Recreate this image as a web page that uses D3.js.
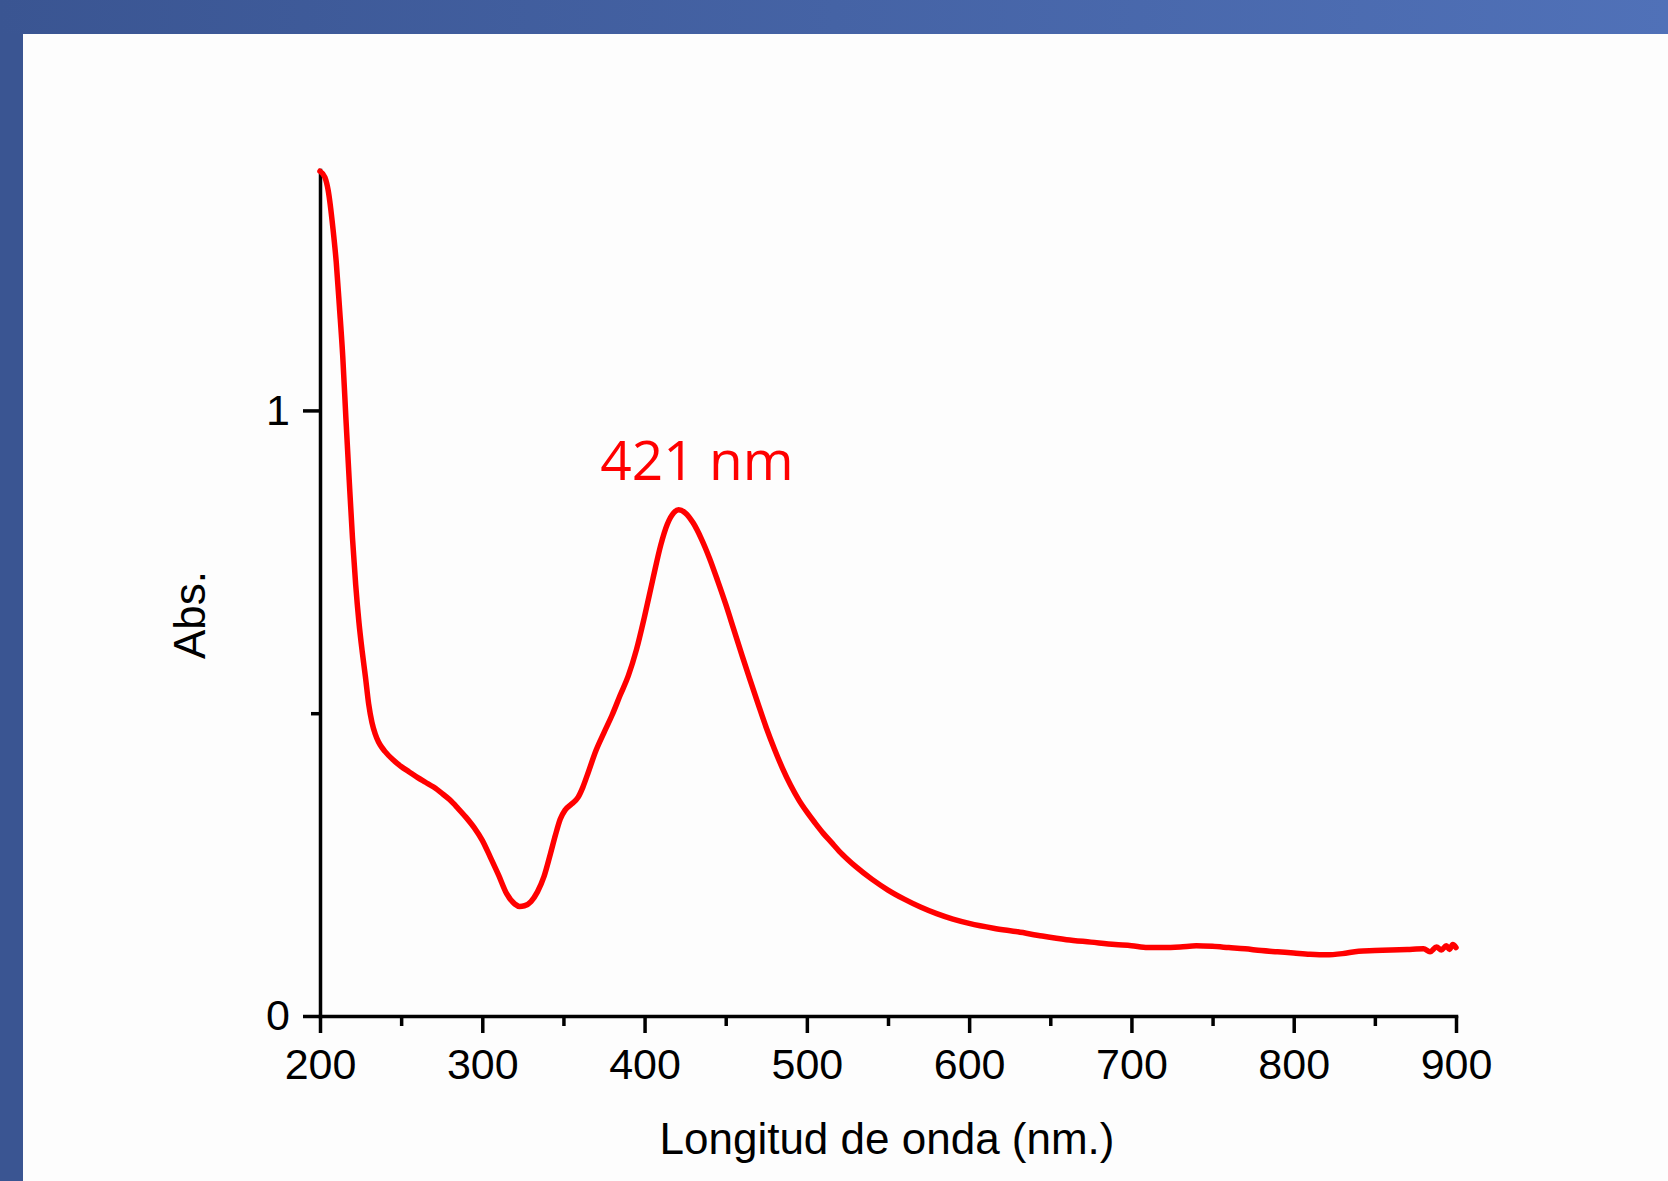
<!DOCTYPE html>
<html>
<head>
<meta charset="utf-8">
<script src="https://cdn.jsdelivr.net/npm/d3@7"></script>
<style>
	body { margin: 0; padding: 0; overflow: hidden; }
	svg { display: block; }
	.axis text { font-family: "Liberation Sans", Arial, sans-serif; font-size: 43px; fill: #000; }
	.axis path, .axis line { stroke: #000; stroke-width: 3.5; }
	.titulo { font-family: "Liberation Sans", Arial, sans-serif; font-size: 44px; fill: #000; }
	.pico { font-family: "Open Sans", "Noto Sans", sans-serif; font-size: 55px; fill: #ff0000; }
</style>
</head>
<body>
<div id="grafico"></div>
<script>
// espectro UV-vis: longitud de onda (nm) y absorbancia
var longitudes = [200,203,205,208,210,212,214,216,218,220,222,224,226,228,230,232,234,236,238,240,245,250,
	255,260,265,270,275,280,285,290,295,300,305,310,315,320,323,326,330,334,338,342,
	345,348,351,355,359,362,365,370,375,380,385,390,395,400,405,410,414,418,421,425,
	430,435,440,445,450,455,460,465,470,475,480,485,490,495,500,505,510,515,520,525,530,540,550,
	560,570,580,590,600,615,630,645,660,675,690,700,710,720,730,740,750,760,770,780,
	790,800,810,820,830,840,850,860,870,880,884,888,891,894,896,898,900];
var absorbancia = [1.395,1.385,1.364,1.300,1.245,1.170,1.090,0.985,0.885,0.790,0.712,0.650,0.602,0.560,0.515,0.485,0.466,0.453,0.444,0.437,0.423,0.412,
	0.403,0.394,0.386,0.378,0.368,0.357,0.343,0.328,0.311,0.290,0.262,0.233,0.202,0.185,0.181,0.182,0.189,0.205,0.230,0.268,
	0.298,0.325,0.340,0.350,0.361,0.378,0.400,0.438,0.468,0.497,0.530,0.562,0.605,0.660,0.720,0.778,0.812,0.831,0.836,0.831,
	0.814,0.788,0.756,0.719,0.680,0.638,0.596,0.555,0.515,0.476,0.441,0.409,0.381,0.357,0.337,0.319,0.302,0.287,0.272,0.259,0.247,0.226,0.208,
	0.193,0.180,0.169,0.160,0.153,0.145,0.139,0.132,0.126,0.122,0.118,0.116,0.113,0.113,0.114,0.116,0.115,0.113,0.111,0.108,
	0.106,0.104,0.102,0.101,0.103,0.107,0.108,0.109,0.110,0.111,0.106,0.114,0.109,0.116,0.110,0.118,0.113];

var ticksX = [200,300,400,500,600,700,800,900];
var ticksXmenor = [250,350,450,550,650,750,850];
var ticksY = [0,1];
var ticksYmenor = [0.5];
var tituloX = "Longitud de onda (nm.)";
var tituloY = "Abs.";
var etiquetaPico = "421 nm";

var ancho = 1668, alto = 1181;

var datos = longitudes.map(function(d, i){ return { nm: d, abs: absorbancia[i] }; });

var svg = d3.select("#grafico").append("svg").attr("width", ancho).attr("height", alto);

// marco azul de la diapositiva
var grad = svg.append("defs").append("linearGradient").attr("id", "barra").attr("x1", "0").attr("x2", "1");
grad.append("stop").attr("offset", "0").attr("stop-color", "#3a5592");
grad.append("stop").attr("offset", "1").attr("stop-color", "#5071b8");

svg.append("rect").attr("width", ancho).attr("height", alto).attr("fill", "#3a5592");
svg.append("rect").attr("width", ancho).attr("height", 34).attr("fill", "url(#barra)");
svg.append("rect").attr("x", 23).attr("y", 34).attr("width", ancho - 23).attr("height", alto - 34).attr("fill", "#fdfdfd");

var x = d3.scaleLinear()
	.domain([200, 900])
	.range([320, 1456]);

var y = d3.scaleLinear()
	.domain([0, 1.397])
	.range([1016, 170]);

// ticks menores
svg.append("g")
	.attr("class", "axis")
	.attr("transform", "translate(0,1016)")
	.call(d3.axisBottom(x).tickValues(ticksXmenor).tickSize(10).tickFormat(""))
	.select(".domain").remove();

svg.append("g")
	.attr("class", "axis")
	.attr("transform", "translate(320,0)")
	.call(d3.axisLeft(y).tickValues(ticksYmenor).tickSize(9).tickFormat(""))
	.select(".domain").remove();

var ejeX = svg.append("g")
	.attr("class", "axis")
	.attr("transform", "translate(0,1016)")
	.call(d3.axisBottom(x).tickValues(ticksX).tickSize(17).tickSizeOuter(0).tickPadding(15).tickFormat(d3.format("d")));

var ejeY = svg.append("g")
	.attr("class", "axis")
	.attr("transform", "translate(320,0)")
	.call(d3.axisLeft(y).tickValues(ticksY).tickSize(17).tickSizeOuter(0).tickPadding(13).tickFormat(d3.format("d")));

svg.selectAll(".axis .domain").attr("stroke-linecap", "square");

var linea = d3.line()
	.x(function(d){ return x(d.nm); })
	.y(function(d){ return y(d.abs); })
	.curve(d3.curveMonotoneX);

svg.append("path")
	.datum(datos)
	.attr("d", linea)
	.attr("fill", "none")
	.attr("stroke", "#ff0000")
	.attr("stroke-width", 5.5)
	.attr("stroke-linejoin", "round")
	.attr("stroke-linecap", "round");

svg.append("text")
	.attr("class", "titulo")
	.attr("x", 887)
	.attr("y", 1154)
	.attr("text-anchor", "middle")
	.text(tituloX);

svg.append("text")
	.attr("class", "titulo")
	.attr("transform", "translate(205,615) rotate(-90)")
	.attr("text-anchor", "middle")
	.text(tituloY);

svg.append("text")
	.attr("class", "pico")
	.attr("x", 697)
	.attr("y", 480)
	.attr("text-anchor", "middle")
	.text(etiquetaPico);
</script>
</body>
</html>
